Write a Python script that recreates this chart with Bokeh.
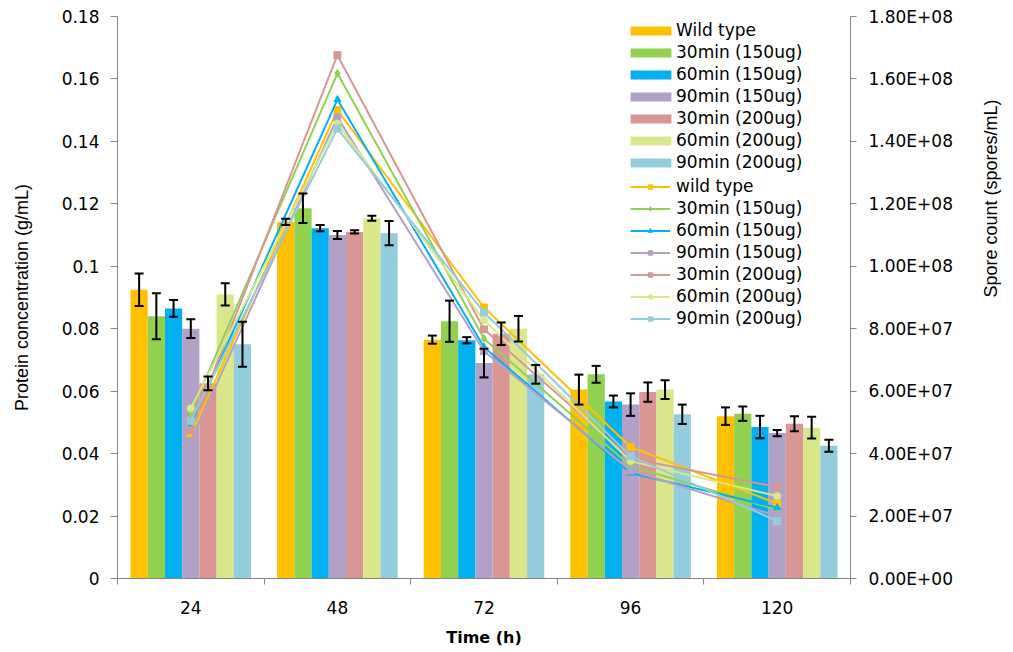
import math
import numpy as np
from bokeh.plotting import figure
from bokeh.models import (Range1d, LinearAxis, FixedTicker, Whisker, ColumnDataSource,
                          Legend, LegendItem, TeeHead)
from bokeh.embed import file_html
from bokeh.resources import INLINE

# ---------------- data ----------------
times = ["24", "48", "72", "96", "120"]

bar_labels = ["Wild type", "30min (150ug)", "60min (150ug)", "90min (150ug)",
              "30min (200ug)", "60min (200ug)", "90min (200ug)"]
line_labels = ["wild type", "30min (150ug)", "60min (150ug)", "90min (150ug)",
               "30min (200ug)", "60min (200ug)", "90min (200ug)"]
colors = ["#FFC000", "#92D050", "#00B0F0", "#B2A1C7", "#D99694", "#D9E68A", "#93CDDD"]
markers = ["square", "diamond", "triangle", "square", "square", "circle", "square"]

x_title = "Time (h)"
left_title = "Protein concentration (g/mL)"
right_title = "Spore count (spores/mL)"

# protein concentration (g/mL), bars
protein_wt     = [0.0925, 0.1142, 0.0765, 0.0605, 0.0520]
protein_30_150 = [0.0840, 0.1186, 0.0824, 0.0654, 0.0528]
protein_60_150 = [0.0865, 0.1122, 0.0763, 0.0567, 0.0485]
protein_90_150 = [0.0800, 0.1100, 0.0690, 0.0557, 0.0466]
protein_30_200 = [0.0625, 0.1110, 0.0784, 0.0597, 0.0496]
protein_60_200 = [0.0910, 0.1154, 0.0800, 0.0605, 0.0483]
protein_90_200 = [0.0750, 0.1106, 0.0654, 0.0526, 0.0425]

# error (+/-)
err_wt     = [0.0052, 0.0010, 0.0013, 0.0048, 0.0028]
err_30_150 = [0.0074, 0.0047, 0.0066, 0.0027, 0.0023]
err_60_150 = [0.0027, 0.0010, 0.0010, 0.0019, 0.0036]
err_90_150 = [0.0030, 0.0013, 0.0046, 0.0036, 0.0010]
err_30_200 = [0.0022, 0.0005, 0.0036, 0.0031, 0.0024]
err_60_200 = [0.0036, 0.0008, 0.0041, 0.0030, 0.0035]
err_90_200 = [0.0072, 0.0039, 0.0030, 0.0031, 0.0019]

# spore count (spores/mL), lines
spore_wt     = [4.60e7, 1.500e8, 8.68e7, 4.21e7, 2.40e7]
spore_30_150 = [5.30e7, 1.618e8, 7.68e7, 3.60e7, 2.20e7]
spore_60_150 = [4.90e7, 1.534e8, 7.41e7, 3.38e7, 2.27e7]
spore_90_150 = [4.40e7, 1.477e8, 7.28e7, 3.46e7, 2.00e7]
spore_30_200 = [4.75e7, 1.676e8, 7.98e7, 3.84e7, 2.93e7]
spore_60_200 = [5.45e7, 1.457e8, 8.27e7, 3.76e7, 2.64e7]
spore_90_200 = [5.05e7, 1.441e8, 8.52e7, 3.92e7, 1.84e7]

protein = [protein_wt, protein_30_150, protein_60_150, protein_90_150,
           protein_30_200, protein_60_200, protein_90_200]
errors = [err_wt, err_30_150, err_60_150, err_90_150, err_30_200, err_60_200, err_90_200]
spores = [spore_wt, spore_30_150, spore_60_150, spore_90_150,
          spore_30_200, spore_60_200, spore_90_200]

left_ticks = [0, 0.02, 0.04, 0.06, 0.08, 0.1, 0.12, 0.14, 0.16, 0.18]
right_ticks = [0, 2e7, 4e7, 6e7, 8e7, 1e8, 1.2e8, 1.4e8, 1.6e8, 1.8e8]

# ---------------- figure ----------------
FONT = "DejaVu Sans"
AXIS_GRAY = "#868686"

p = figure(width=1013, height=652, output_backend="svg", toolbar_location=None,
           x_range=Range1d(0, len(times)), y_range=Range1d(0, 0.18),
           min_border_left=117, min_border_right=160, min_border_top=16, min_border_bottom=74)
p.outline_line_color = None
p.xgrid.visible = False
p.ygrid.visible = False
p.extra_y_ranges = {"spore": Range1d(0, 1.8e8)}

centers = np.arange(len(times)) + 0.5
bar_w = 0.1175

bar_renderers = []
for j in range(len(bar_labels)):
    xs = centers + (j - 3) * bar_w
    src = ColumnDataSource(dict(x=xs, top=protein[j],
                                upper=np.array(protein[j]) + np.array(errors[j]),
                                lower=np.array(protein[j]) - np.array(errors[j])))
    r = p.vbar(x="x", top="top", width=bar_w, source=src, fill_color=colors[j], line_color=None)
    bar_renderers.append(r)
    w = Whisker(base="x", upper="upper", lower="lower", source=src, line_color="black",
                line_width=2, level="glyph",
                upper_head=TeeHead(size=9, line_color="black", line_width=2),
                lower_head=TeeHead(size=9, line_color="black", line_width=2))
    p.add_layout(w)

line_items = []
for j in range(len(line_labels)):
    src = ColumnDataSource(dict(x=centers, y=spores[j]))
    lr = p.line("x", "y", source=src, y_range_name="spore", line_color=colors[j], line_width=2)
    sr = p.scatter("x", "y", source=src, y_range_name="spore", marker=markers[j],
                   size=7 if markers[j] != "diamond" else 8,
                   fill_color=colors[j], line_color=colors[j])
    line_items.append(LegendItem(label=line_labels[j], renderers=[lr, sr]))

# ---------------- axes ----------------
xa = p.xaxis[0]
xa.ticker = FixedTicker(ticks=list(centers), minor_ticks=list(range(len(times) + 1)))
xa.major_label_overrides = {float(c): t for c, t in zip(centers, times)}
xa.major_tick_line_color = None
xa.major_tick_out = 0
xa.major_tick_in = 0
xa.minor_tick_out = 6
xa.minor_tick_in = 0
xa.minor_tick_line_color = AXIS_GRAY
xa.axis_line_color = AXIS_GRAY
xa.major_label_text_font = FONT
xa.major_label_text_font_size = "17px"
xa.major_label_text_color = "black"
xa.major_label_standoff = 16
xa.axis_label = x_title
xa.axis_label_text_font = FONT
xa.axis_label_text_font_style = "bold"
xa.axis_label_text_font_size = "16px"
xa.axis_label_text_color = "black"
xa.axis_label_standoff = 11

ya = p.yaxis[0]
ya.ticker = FixedTicker(ticks=left_ticks)
ya.minor_tick_line_color = None
ya.major_label_overrides = {t: f"{t:g}" for t in left_ticks}
ya.axis_line_color = AXIS_GRAY
ya.major_tick_line_color = AXIS_GRAY
ya.major_tick_out = 7
ya.major_tick_in = 0
ya.major_label_standoff = 11
ya.major_label_text_font = FONT
ya.major_label_text_font_size = "17px"
ya.major_label_text_color = "black"
ya.axis_label = left_title
ya.axis_label_text_font = "Liberation Sans"
ya.axis_label_text_font_style = "normal"
ya.axis_label_text_font_size = "18px"
ya.axis_label_text_color = "black"
ya.axis_label_standoff = 27

ra = LinearAxis(y_range_name="spore", ticker=FixedTicker(ticks=right_ticks))
ra.minor_tick_line_color = None
ra.major_label_overrides = {t: f"{t:.2E}" for t in right_ticks}
ra.axis_line_color = AXIS_GRAY
ra.major_tick_line_color = AXIS_GRAY
ra.major_tick_out = 6
ra.major_tick_in = 0
ra.major_label_standoff = 12
ra.major_label_text_font = FONT
ra.major_label_text_font_size = "17px"
ra.major_label_text_color = "black"
ra.axis_label = right_title
ra.axis_label_text_font = "Liberation Sans"
ra.axis_label_text_font_style = "normal"
ra.axis_label_text_font_size = "18px"
ra.axis_label_text_color = "black"
ra.axis_label_orientation = math.pi / 2
ra.axis_label_standoff = 35
p.add_layout(ra, "right")

# ---------------- legends ----------------
bar_items = [LegendItem(label=l, renderers=[r]) for l, r in zip(bar_labels, bar_renderers)]

def style_legend(lg):
    lg.background_fill_alpha = 0
    lg.border_line_alpha = 0
    lg.padding = 0
    lg.margin = 0
    lg.label_text_font = FONT
    lg.label_text_font_size = "17px"
    lg.label_text_color = "black"
    lg.label_height = 11
    lg.glyph_height = 11
    lg.spacing = 2

leg_bars = Legend(items=bar_items, location=(508, 406))
style_legend(leg_bars)
leg_bars.glyph_width = 51
leg_bars.label_standoff = 0
leg_lines = Legend(items=line_items, location=(513, 250))
style_legend(leg_lines)
leg_lines.glyph_width = 40
leg_lines.label_standoff = 6
p.add_layout(leg_bars)
p.add_layout(leg_lines)

open("out.html", "w").write(file_html(p, INLINE))
